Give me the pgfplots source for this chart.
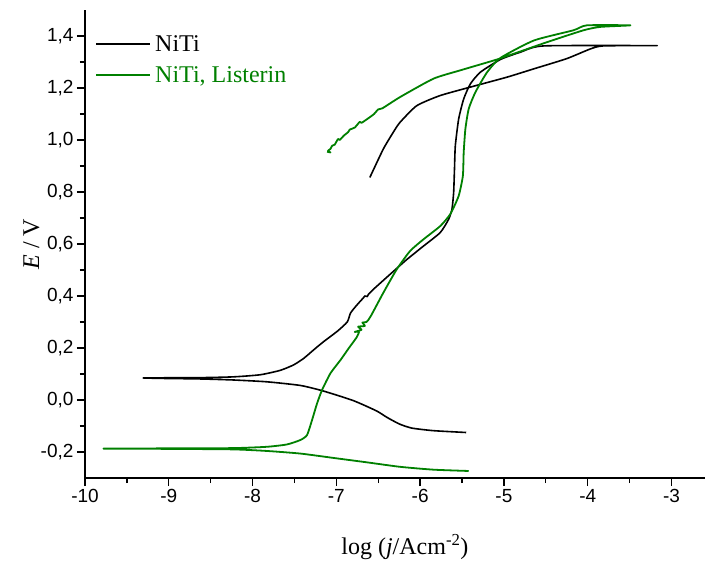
\documentclass[border=0pt]{standalone}
\usepackage{fontspec}
\setmainfont{Liberation Serif}
\setsansfont{Liberation Sans}
\usepackage{pgfplots}
\pgfplotsset{compat=1.18}
\definecolor{lgreen}{RGB}{0,128,0}
\begin{document}
\begin{tikzpicture}
\useasboundingbox (-85pt,-87pt) rectangle (620pt,478pt);
\begin{axis}[
  at={(0,0)}, anchor=south west,
  scale only axis, width=620pt, height=468pt,
  xmin=-10, xmax=-2.6, ymin=-0.3, ymax=1.5,
  axis x line*=bottom, axis y line*=left,
  axis line style={-, line width=1.4pt},
  xtick={-10,-9,...,-3},
  ytick={-0.2,0,0.2,0.4,0.6,0.8,1.0,1.2,1.4},
  minor x tick num=1, minor y tick num=1,
  tick align=outside,
  major tick length=8pt, minor tick length=5pt,
  every tick/.style={black, line width=1.3pt},
  tick label style={font=\sffamily\fontsize{19}{21}\selectfont},
  yticklabel style={/pgf/number format/.cd, fixed, fixed zerofill, precision=1, use comma, assume math mode=true},
  xticklabel style={/pgf/number format/.cd, assume math mode=true},
  label style={font=\fontsize{24}{28}\selectfont},
  xlabel={log (\textit{j}/Acm\textsuperscript{-2})},
  ylabel={\textit{E} / V},
  xlabel style={at={(axis description cs:0.516,0)}, anchor=north, yshift=-53pt},
  ylabel style={at={(axis description cs:0,0.5)}, anchor=south, xshift=0pt, yshift=42pt},
  legend style={draw=none, fill=none, at={(0.0165,0.951)}, anchor=north west,
    inner sep=0pt, font=\fontsize{24}{28}\selectfont, row sep=10pt,
    nodes={inner xsep=4pt}},
  legend cell align=left,
  legend image code/.code={\draw[#1] (0pt,0pt) -- (54pt,0pt);},
]
\addplot[black, line width=1.6pt, line join=round, smooth, tension=0.35] coordinates {
(-5.45,-0.125) (-5.84,-0.118) (-6.10,-0.108) (-6.25,-0.092) (-6.40,-0.066) (-6.52,-0.042)
(-6.80,-0.002) (-7.16,0.035) (-7.43,0.056) (-7.83,0.070) (-8.23,0.077)
(-8.63,0.081) (-9.08,0.083) (-9.30,0.085)
(-8.63,0.086) (-8.23,0.089) (-7.91,0.097) (-7.67,0.114) (-7.51,0.135)
(-7.39,0.160) (-7.27,0.193) (-7.15,0.225) (-6.99,0.264) (-6.87,0.300)
(-6.83,0.335) (-6.75,0.367) (-6.68,0.392) (-6.66,0.400) (-6.63,0.398) (-6.62,0.405)
(-6.56,0.425) (-6.36,0.483) (-6.16,0.540) (-5.96,0.592) (-5.76,0.644)
(-5.66,0.695) (-5.62,0.734) (-5.60,0.798) (-5.59,0.888) (-5.58,0.978)
(-5.54,1.081) (-5.48,1.158) (-5.40,1.216) (-5.28,1.261) (-5.04,1.310)
(-4.80,1.338) (-4.52,1.362) (-3.17,1.363)
(-3.81,1.362) (-3.97,1.350) (-4.25,1.313) (-4.64,1.274) (-4.96,1.242)
(-5.36,1.207) (-5.76,1.171) (-6.04,1.132) (-6.24,1.068) (-6.32,1.030)
(-6.44,0.965) (-6.60,0.856)
};
\addlegendentry{NiTi}
\addplot[lgreen, line width=1.8pt, line join=round, smooth, tension=0.35] coordinates {
(-5.42,-0.273) (-5.84,-0.268) (-6.24,-0.257) (-6.63,-0.240) (-7.03,-0.223)
(-7.43,-0.206) (-7.83,-0.196) (-8.23,-0.190) (-9.02,-0.188) (-9.78,-0.187)
(-9.02,-0.186) (-8.23,-0.185) (-7.83,-0.180) (-7.59,-0.171) (-7.43,-0.154)
(-7.35,-0.135) (-7.29,-0.077) (-7.23,-0.013) (-7.17,0.039) (-7.07,0.103)
(-6.95,0.154) (-6.85,0.200) (-6.76,0.240) (-6.73,0.262) (-6.78,0.262) (-6.70,0.270)
(-6.74,0.282) (-6.66,0.285) (-6.69,0.298) (-6.64,0.300)
(-6.59,0.322) (-6.44,0.412) (-6.28,0.502) (-6.12,0.573) (-5.96,0.618)
(-5.76,0.669) (-5.64,0.715) (-5.54,0.785) (-5.49,0.862) (-5.48,0.952)
(-5.46,1.042) (-5.42,1.120) (-5.34,1.184) (-5.20,1.261) (-5.04,1.316)
(-4.64,1.383) (-4.17,1.422) (-4.01,1.441) (-3.49,1.441)
(-3.85,1.435) (-4.05,1.422) (-4.48,1.377) (-4.96,1.323) (-5.12,1.306)
(-5.52,1.268) (-5.84,1.236) (-6.24,1.165) (-6.45,1.122) (-6.50,1.118) (-6.55,1.100)
(-6.63,1.081) (-6.70,1.066) (-6.72,1.070) (-6.78,1.048) (-6.84,1.040) (-6.86,1.030)
(-6.91,1.017) (-6.96,1.000) (-6.98,1.004) (-7.02,0.982) (-7.05,0.978) (-7.07,0.966)
(-7.10,0.958) (-7.07,0.952) (-7.11,0.955)
};
\addlegendentry{\textcolor{lgreen}{NiTi, Listerin}}
\end{axis}
\end{tikzpicture}
\end{document}
